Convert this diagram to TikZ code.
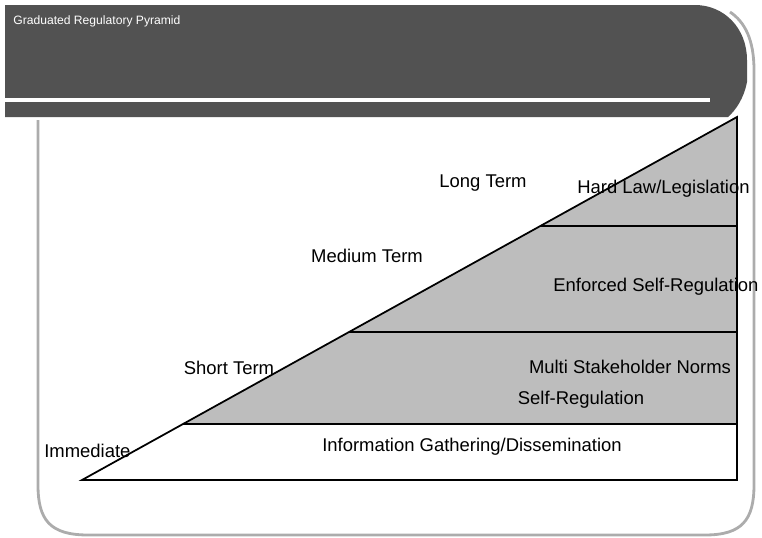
\documentclass[tikz,border=0pt]{standalone}
\usepackage{fontspec}
\setmainfont{Liberation Sans}
\begin{document}
\begin{tikzpicture}[x=0.02cm,y=-0.02cm,
  lbl/.style={font=\fontsize{10.5}{12}\selectfont, inner sep=0pt},
  band/.style={draw=black, line width=1pt},
  shade/.style={fill=gray!52}]
\useasboundingbox (0,0) rectangle (762,538);
% outer frame
\draw[gray!65, line width=1.6pt] (38,120) -- (38,485) .. controls (38,520) and (50,535) .. (88,535) -- (705,535) .. controls (742,535) and (754,520) .. (754,485) -- (754,70) .. controls (754,40) and (745,22) .. (730,12);
% header
\fill[black!68] (5,5) -- (695,5) .. controls (724,5) and (747,28) .. (747,60) -- (747,82) .. controls (744,98) and (736,110) .. (728,117) -- (5,117) -- cycle;
\draw[white, line width=1.8pt] (5,100) -- (710,100);
\node[anchor=west, text=white, font=\fontsize{6.9}{8}\selectfont, inner sep=0pt] (title) at (13,21) {Graduated Regulatory Pyramid};
% pyramid
\coordinate (bl) at (82,480);
\coordinate (ap) at (737,117);
\coordinate (br) at (737,480);
\coordinate (l1) at (183,424);
\coordinate (r1) at (737,424);
\coordinate (l2) at (349,332);
\coordinate (r2) at (737,332);
\coordinate (l3) at (540,226);
\coordinate (r3) at (737,226);
\fill[shade] (l1) -- (ap) -- (r1) -- cycle;
\draw[band] (bl) -- (ap) -- (br) -- cycle;
\draw[band] (l1) -- (r1);
\draw[band] (l2) -- (r2);
\draw[band] (l3) -- (r3);
% labels
\node[lbl] (lt) at (483,183) {Long Term};
\node[lbl, anchor=west] (hl) at (577,189) {Hard Law/Legislation};
\node[lbl] (mt) at (367,256) {Medium Term};
\node[lbl, anchor=west] (es) at (553,287) {Enforced Self-Regulation};
\node[lbl] (st) at (229,368) {Short Term};
\node[lbl] (ms) at (630,367) {Multi Stakeholder Norms};
\node[lbl] (sr) at (581,400) {Self-Regulation};
\node[lbl, anchor=west] (im) at (44,451) {Immediate};
\node[lbl] (ig) at (472,447) {Information Gathering/Dissemination};
\end{tikzpicture}
\end{document}
